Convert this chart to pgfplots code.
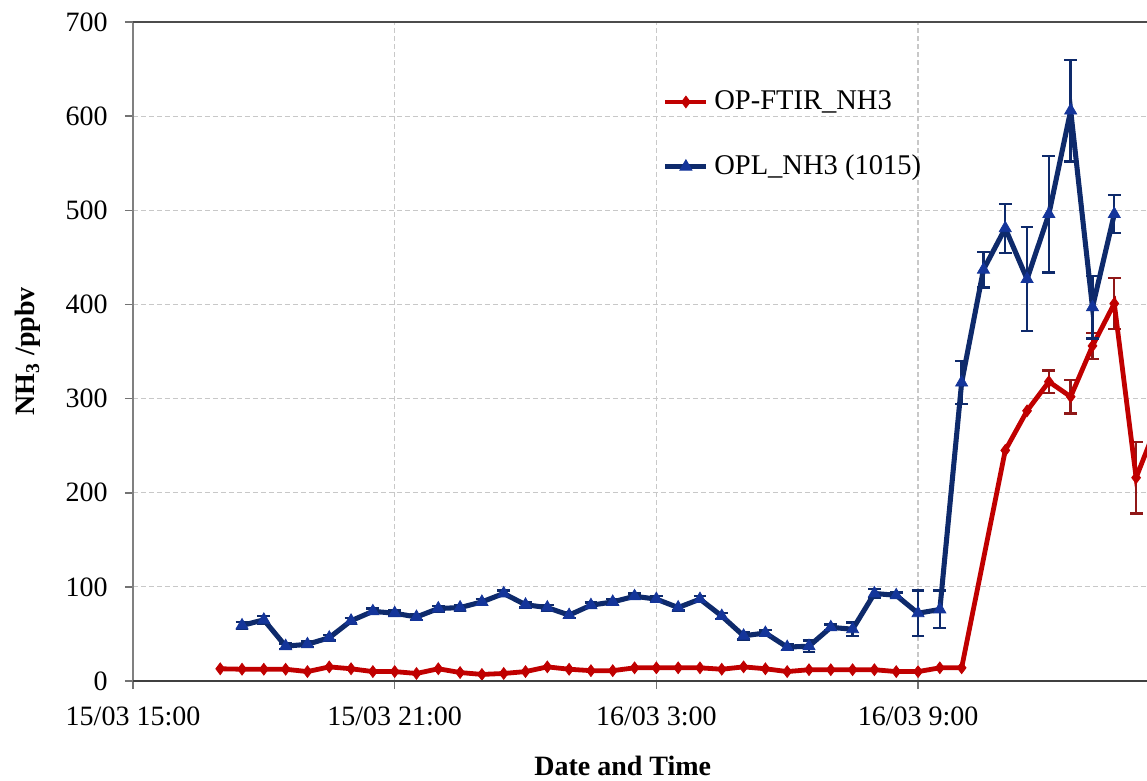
\documentclass[border=0pt]{standalone}
\usepackage{fontspec}
\setmainfont{Liberation Serif}
\usepackage{pgfplots}
\pgfplotsset{compat=1.18}
\definecolor{fred}{HTML}{C00000}
\definecolor{ferr}{HTML}{901818}
\definecolor{oblue}{HTML}{0E2A6B}
\definecolor{oblueM}{HTML}{14359A}
\definecolor{gridc}{HTML}{C8C8C8}
\begin{document}
\begin{tikzpicture}[font=\fontsize{10.5}{12.5}\selectfont]
\begin{axis}[
  width=380.25pt, height=247.1pt, scale only axis,
  xmin=0, xmax=23.25, ymin=0, ymax=700,
  xtick={0,6,12,18},
  xticklabels={15/03 15:00,15/03 21:00,16/03 3:00,16/03 9:00},
  ytick={0,100,...,700},
  /pgf/number format/assume math mode=true,
  xtick pos=bottom, ytick pos=left,
  tick align=outside, major tick length=3pt,
  tick style={draw=black!55, line width=0.6pt},
  xticklabel shift=3pt, yticklabel shift=3pt,
  axis line style={draw=none},
  grid=major,
  grid style={gridc, dash pattern=on 1.9pt off 1.1pt, line width=0.45pt},
  clip mode=individual,
  every axis y label/.style={at={(axis description cs:-0.1036,0.5)}, rotate=90, anchor=center},
  every axis x label/.style={at={(axis description cs:0.483,-0.129)}, anchor=center},
  ylabel={\textbf{NH\textsubscript{3} /ppbv}},
  xlabel={\textbf{Date and Time}},
  legend style={draw=none, fill=none, at={(axis description cs:0.522,0.905)}, anchor=north west,
    row sep=11.5pt, inner sep=0pt, font=\fontsize{10.7}{12.5}\selectfont},
  legend cell align=left,
  legend image code/.code={\draw[mark repeat=2,mark phase=2,#1] plot coordinates {(0pt,0pt) (7.7pt,0pt) (15.4pt,0pt)};},
]
\coordinate (BL) at (rel axis cs:0,0);

% red error bars (only visible ones)
\addplot[draw=none, mark=none, forget plot,
  error bars/.cd, y dir=both, y explicit,
  error bar style={draw=ferr, line width=0.9pt, solid},
  error mark options={draw=ferr, line width=0.9pt, mark size=2.4pt, rotate=90}]
  table[x=t, y=v, y error=e] {
t v e
21.0 318 12
21.5 302 18
22.0 356 14
22.5 401 27
23.0 216 38
};

\addplot[fred, line width=1.8pt, mark=diamond*, mark size=2.2pt, mark options={solid, fill=fred, draw=fred, line width=0.3pt}]
  table[x=t, y=v] {
t v
2.0 13
2.5 12.5
3.0 12.5
3.5 12.5
4.0 10
4.5 15
5.0 13
5.5 10
6.0 10
6.5 8
7.0 13
7.5 9
8.0 7
8.5 8
9.0 10
9.5 15
10.0 12.5
10.5 11
11.0 11
11.5 14
12.0 14
12.5 14
13.0 14
13.5 12.5
14.0 15
14.5 13
15.0 10
15.5 12
16.0 12
16.5 12
17.0 12
17.5 10
18.0 10
18.5 14
19.0 14
20.0 245
20.5 287
21.0 318
21.5 302
22.0 356
22.5 401
23.0 216
23.5 275
};
\addlegendentry{OP-FTIR\_NH3}

\addplot[oblue, line width=1.9pt, mark=triangle*, mark size=2.6pt, mark options={solid, fill=oblueM, draw=oblueM, line width=0.3pt},
  error bars/.cd, y dir=both, y explicit,
  error bar style={draw=oblue, line width=0.9pt, solid},
  error mark options={draw=oblue, line width=0.9pt, mark size=2.4pt, rotate=90}]
  table[x=t, y=v, y error=e] {
t v e
2.5 59 4
3.0 65 4
3.5 37 3
4.0 39 3
4.5 46 3
5.0 64 3
5.5 74 3
6.0 72 3
6.5 68 3
7.0 77 3
7.5 78 3
8.0 84 3
8.5 93 3
9.0 81 3
9.5 78 3
10.0 70 3
10.5 80.5 3
11.0 84 3
11.5 90 3
12.0 87 3
12.5 78 3
13.0 87 3
13.5 69 3
14.0 48 4
14.5 51 3
15.0 36 3
15.5 37 6
16.0 57 3
16.5 55 7
17.0 93 5
17.5 91 3
18.0 72 24
18.5 76 20
19.0 317 23
19.5 437 19
20.0 481 26
20.5 427 55
21.0 496 62
21.5 606 54
22.0 397 33
22.5 496 20
};
\addlegendentry{OPL\_NH3 (1015)}

\draw[black!50, line width=0.7pt] (rel axis cs:0,0) -- (rel axis cs:0,1);
\draw[black!70, line width=0.7pt] (rel axis cs:0,1) -- (rel axis cs:1,1);
\draw[black!75, line width=0.9pt] (rel axis cs:0,0) -- (rel axis cs:1,0);
\end{axis}
\pgfresetboundingbox
\path ([xshift=-49.875pt, yshift=-37.125pt]BL) rectangle ([xshift=380.25pt, yshift=255.375pt]BL);
\end{tikzpicture}
\end{document}
